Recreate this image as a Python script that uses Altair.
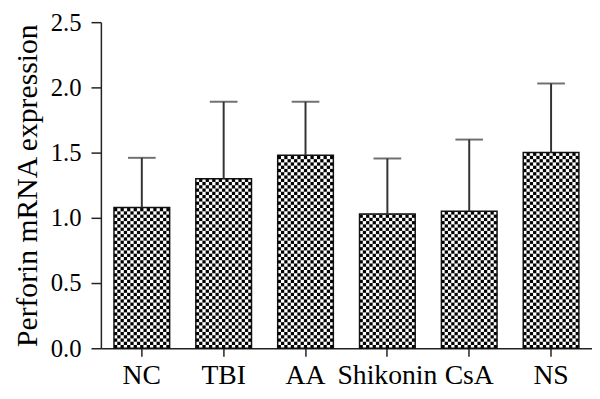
import altair as alt
import pandas as pd
import numpy as np

# ---- data ----
categories = ["NC", "TBI", "AA", "Shikonin", "CsA", "NS"]
means = [1.08, 1.30, 1.48, 1.03, 1.05, 1.50]
upper = [1.46, 1.89, 1.89, 1.455, 1.60, 2.03]
y_ticks = [0.0, 0.5, 1.0, 1.5, 2.0, 2.5]

df = pd.DataFrame({"cat": categories, "mean": means, "upper": upper})

# checkerboard texture cells derived from the bar values
CELL = 0.025
NCOL = 17
cells = []
for c, v in zip(categories, means):
    n = int(np.ceil(v / CELL - 1e-9))
    for r in range(n):
        for k in range(NCOL):
            if (r + k) % 2 == 0:
                cells.append({"cat": c, "col": k, "y0": r * CELL, "y1": min((r + 1) * CELL, v)})
cells_df = pd.DataFrame(cells)

FONT = "Liberation Serif"
xscale = alt.Scale(paddingInner=0.32, paddingOuter=0.16)
yscale = alt.Scale(domain=[0, 2.5], nice=False, zero=True)

x_enc = alt.X("cat:N", sort=categories, scale=xscale,
              axis=alt.Axis(title=None, labelAngle=0, tickSize=8, labelFontSize=28,
                            labelPadding=6, labelFont=FONT, labelColor="black"))
y_axis = alt.Axis(title="Perforin mRNA expression", values=y_ticks, format=".1f",
                  tickSize=10, labelFontSize=25, labelFont=FONT, labelColor="black",
                  labelPadding=10, titleFontSize=30, titleFont=FONT, titleColor="black",
                  titleFontWeight="normal", titlePadding=8, grid=False)

base = alt.Chart(df).mark_bar(fill="white").encode(
    x=x_enc,
    y=alt.Y("mean:Q", scale=yscale, axis=y_axis),
)

checker = alt.Chart(cells_df).mark_rect(fill="black", stroke=None).encode(
    x=alt.X("cat:N", sort=categories, scale=xscale),
    xOffset=alt.XOffset("col:O", scale=alt.Scale(paddingInner=0, paddingOuter=0)),
    y=alt.Y("y0:Q", scale=yscale),
    y2="y1:Q",
)

outline = alt.Chart(df).mark_bar(fillOpacity=0, stroke="#111", strokeWidth=1.5).encode(
    x=alt.X("cat:N", sort=categories, scale=xscale),
    y=alt.Y("mean:Q", scale=yscale),
)

rule = alt.Chart(df).mark_rule(color="#333", strokeWidth=2).encode(
    x=alt.X("cat:N", sort=categories, scale=xscale),
    y=alt.Y("mean:Q", scale=yscale),
    y2="upper:Q",
)

cap = alt.Chart(df).mark_tick(color="#333", thickness=2, size=28).encode(
    x=alt.X("cat:N", sort=categories, scale=xscale),
    y=alt.Y("upper:Q", scale=yscale),
)

chart = alt.layer(base, checker, outline, rule, cap).properties(
    width=497,
    height=330,
    autosize=alt.AutoSizeParams(type="none"),
    padding={"left": 94, "top": 12, "right": 0, "bottom": 49},
).configure_view(stroke=None).configure_axis(
    domainColor="#222", domainWidth=1.5, tickColor="#222", tickWidth=1.5
)

chart.save("out.html", embed_options={"renderer": "svg", "actions": False})
